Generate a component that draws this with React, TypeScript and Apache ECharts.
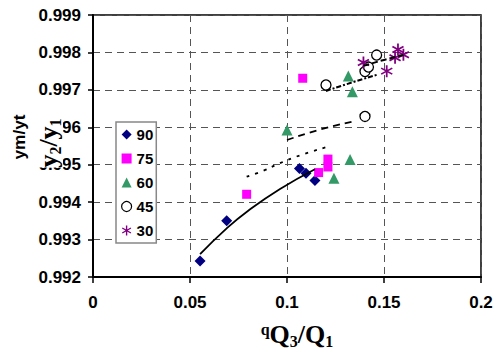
import React, { useEffect, useRef } from "react";
import * as echarts from "echarts";

// Scatter data
const s90x = [0.0552, 0.0689, 0.1064, 0.1098, 0.1144];
const s90y = [0.99243, 0.9935, 0.9949, 0.99477, 0.99458];
const s75x = [0.0792, 0.1081, 0.1211, 0.1211, 0.1163];
const s75y = [0.99421, 0.99731, 0.99515, 0.99494, 0.99479];
const s60x = [0.1, 0.1316, 0.1337, 0.1325, 0.1242];
const s60y = [0.99593, 0.99737, 0.99695, 0.99514, 0.99464];
const s45x = [0.1201, 0.1402, 0.1462, 0.1402, 0.142];
const s45y = [0.99713, 0.99629, 0.99793, 0.99749, 0.99761];
const s30x = [0.1394, 0.1514, 0.1572, 0.16, 0.1557];
const s30y = [0.99773, 0.9975, 0.99808, 0.99794, 0.99786];

// Trend lines
const t90x = [0.0552, 0.0689, 0.08, 0.0964, 0.1144];
const t90y = [0.99261, 0.9933, 0.99377, 0.99435, 0.99488];
const t75x = [0.0792, 0.0878, 0.0963, 0.1067, 0.1211];
const t75y = [0.99468, 0.99484, 0.99504, 0.99525, 0.99548];
const t60x = [0.1, 0.117, 0.1337];
const t60y = [0.99566, 0.99594, 0.99615];
const t45x = [0.1201, 0.133, 0.1462];
const t45y = [0.99697, 0.99719, 0.9974];
const t30x = [0.1394, 0.15, 0.16];
const t30y = [0.99764, 0.9978, 0.99793];

const seriesNames = ["90", "75", "60", "45", "30"];

const ASTERISK =
  "path://M4.3,0L5.7,0L5.7,10L4.3,10Z M1.02,1.89L9.68,6.89L8.98,8.11L0.32,3.11Z M0.32,6.89L8.98,1.89L9.68,3.11L1.02,8.11Z";

const zip = (xs: number[], ys: number[]) => xs.map((x, i) => [x, ys[i]]);

const SANS = "Liberation Sans, Arial, sans-serif";
const SERIF = "Liberation Serif, Times New Roman, serif";

export default function App() {
  const ref = useRef<HTMLDivElement>(null);
  useEffect(() => {
    if (!ref.current) return;
    const chart = echarts.init(ref.current, undefined, { renderer: "svg" });
    const trend = (xs: number[], ys: number[], type: any, width: number) => ({
      type: "line",
      data: zip(xs, ys),
      showSymbol: false,
      symbol: "none",
      smooth: true,
      silent: true,
      z: 5,
      lineStyle: { color: "#000", width, type },
    });
    chart.setOption({
      animation: false,
      backgroundColor: "#fff",
      grid: {
        left: 93,
        top: 15,
        width: 388,
        height: 262,
        show: true,
        borderColor: "#000",
        borderWidth: 1.5,
        backgroundColor: "transparent",
      },
      xAxis: {
        type: "value",
        min: 0,
        max: 0.2,
        interval: 0.05,
        axisLine: { show: true, lineStyle: { color: "#000", width: 2 } },
        axisTick: { show: true, inside: false, length: 6, lineStyle: { color: "#000", width: 1.5 } },
        axisLabel: {
          margin: 17,
          color: "#000",
          fontSize: 17,
          fontWeight: "bold",
          fontFamily: SANS,
          formatter: (v: number) => String(parseFloat(v.toFixed(2))),
        },
        splitLine: { show: true, lineStyle: { color: "#555", width: 1, type: [7, 5] } },
      },
      yAxis: {
        type: "value",
        min: 0.992,
        max: 0.999,
        interval: 0.001,
        axisLine: { show: true, lineStyle: { color: "#000", width: 2 } },
        axisTick: { show: true, inside: false, length: 5, lineStyle: { color: "#000", width: 1.5 } },
        axisLabel: {
          margin: 12,
          color: "#000",
          fontSize: 17,
          fontWeight: "bold",
          fontFamily: SANS,
          formatter: (v: number) => v.toFixed(3),
        },
        splitLine: { show: true, lineStyle: { color: "#555", width: 1, type: [7, 5] } },
      },
      legend: {
        show: true,
        orient: "vertical",
        left: 116,
        top: 122,
        padding: [5, 3, 5, 5],
        itemWidth: 10,
        itemHeight: 10,
        itemGap: 9,
        backgroundColor: "#fff",
        borderColor: "#888",
        borderWidth: 1.5,
        borderRadius: 0,
        textStyle: { color: "#000", fontSize: 15, fontWeight: "bold", fontFamily: SANS },
        data: [
          { name: "90", icon: "diamond" },
          { name: "75", icon: "rect" },
          { name: "60", icon: "triangle" },
          { name: "45", icon: "circle", itemStyle: { borderWidth: 1.2, borderColor: "#000", color: "#fff" } },
          { name: "30", icon: ASTERISK },
        ],
      },
      graphic: [
        {
          type: "text",
          x: 20,
          y: 137,
          rotation: Math.PI / 2,
          scaleX: 1.08,
          z: 100,
          style: {
            text: "ym/yt",
            fontSize: 16,
            fontWeight: "bold",
            fontFamily: SANS,
            fill: "#000",
            align: "center",
            verticalAlign: "middle",
          },
        },
        {
          type: "text",
          x: 49,
          y: 143,
          rotation: Math.PI / 2,
          z: 100,
          style: {
            text: "{a|y}{b|2}{a|/y}{b|1}",
            align: "center",
            verticalAlign: "middle",
            backgroundColor: "#fff",
            rich: {
              a: { fontSize: 26, fontWeight: "bold", fontFamily: SERIF, fill: "#000", color: "#000", verticalAlign: "top" },
              b: { fontSize: 16, fontWeight: "bold", fontFamily: SERIF, fill: "#000", color: "#000", verticalAlign: "top", padding: [12, 0, 0, 0] },
            },
          },
        },
        {
          type: "text",
          x: 297,
          y: 335,
          z: 100,
          style: {
            text: "{s|q}{a|Q}{b|3}{a|/Q}{b|1}",
            align: "center",
            verticalAlign: "middle",
            rich: {
              s: { fontSize: 16, fontWeight: "bold", fontFamily: SERIF, fill: "#000", color: "#000", verticalAlign: "top" },
              a: { fontSize: 26, fontWeight: "bold", fontFamily: SERIF, fill: "#000", color: "#000", verticalAlign: "top" },
              b: { fontSize: 16, fontWeight: "bold", fontFamily: SERIF, fill: "#000", color: "#000", verticalAlign: "top", padding: [12, 0, 0, 0] },
            },
          },
        },
      ],
      series: [
        {
          name: seriesNames[0],
          type: "scatter",
          symbol: "diamond",
          symbolSize: 11,
          itemStyle: { color: "#000080", opacity: 1 },
          data: zip(s90x, s90y),
        },
        {
          name: seriesNames[1],
          type: "scatter",
          symbol: "rect",
          symbolSize: 9,
          itemStyle: { color: "#FF00FF", opacity: 1 },
          data: zip(s75x, s75y),
        },
        {
          name: seriesNames[2],
          type: "scatter",
          symbol: "triangle",
          symbolSize: 11,
          itemStyle: { color: "#339966", opacity: 1 },
          data: zip(s60x, s60y),
        },
        {
          name: seriesNames[3],
          type: "scatter",
          symbol: "circle",
          symbolSize: 10,
          itemStyle: { color: "#fff", borderColor: "#000", borderWidth: 1.3, opacity: 1 },
          data: zip(s45x, s45y),
        },
        {
          name: seriesNames[4],
          type: "scatter",
          symbol: ASTERISK,
          symbolSize: 12,
          itemStyle: { color: "#800080", opacity: 1 },
          data: zip(s30x, s30y),
        },
        trend(t90x, t90y, "solid", 1.8),
        trend(t75x, t75y, [3, 6], 1.8),
        trend(t60x, t60y, [7, 5], 1.8),
        trend(t45x, t45y, [5, 2, 2, 2], 2),
        trend(t30x, t30y, [6, 3], 2),
      ],
    });
    return () => chart.dispose();
  }, []);
  return (
    <div
      ref={ref}
      style={{ position: "absolute", left: 0, top: 0, width: 496, height: 354 }}
    />
  );
}
